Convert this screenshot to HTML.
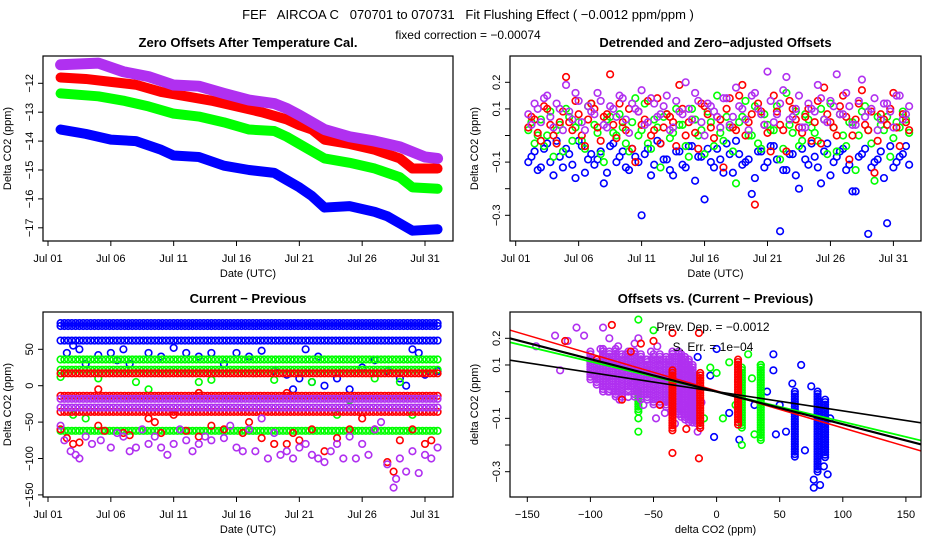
<!DOCTYPE html>
<html><head><meta charset="utf-8">
<style>
body{margin:0;background:#fff;}
svg text{font-family:"Liberation Sans",sans-serif;fill:#000;}
</style></head>
<body>
<svg id="s" width="936" height="540" xmlns="http://www.w3.org/2000/svg">
<rect width="936" height="540" fill="#fff"/>
<text x="468" y="19" font-size="13" text-anchor="middle" xml:space="preserve">FEF   AIRCOA C   070701 to 070731   Fit Flushing Effect ( −0.0012 ppm/ppm )</text>
<text x="468" y="39" font-size="12" text-anchor="middle">fixed correction = −0.00074</text>
<defs>
<clipPath id="c1"><rect x="43" y="56" width="410" height="185"/></clipPath>
<clipPath id="c2"><rect x="510" y="56" width="411" height="185"/></clipPath>
<clipPath id="c3"><rect x="43" y="312" width="410" height="185"/></clipPath>
<clipPath id="c4"><rect x="510" y="312" width="411" height="185"/></clipPath>
</defs>
</svg>
<script>
// ---------- data ----------
const dayTicks=[1,6,11,16,21,26,31];
const dayLabels=["Jul 01","Jul 06","Jul 11","Jul 16","Jul 21","Jul 26","Jul 31"];
const p1Ticks=[-12,-13,-14,-15,-16,-17];
const p2Ticks=[0.2,0.1,0,-0.1,-0.2,-0.3];
const p2Labels=["0.2","0.1","","−0.1","","−0.3"];
const p3Ticks=[50,0,-50,-100,-150];
const p4XTicks=[-150,-100,-50,0,50,100,150];

// panel 1 trends
const p1PurpleT=[2,5,7,9,11,13,15,17,19,20,21,23,25,27,29,31,32];
const p1PurpleV=[-11.36,-11.3,-11.6,-11.77,-12.06,-12.1,-12.35,-12.58,-12.7,-12.87,-13.1,-13.6,-13.85,-14.0,-14.2,-14.55,-14.6];
const p1RedT=[2,4,6,8,10,12,14,16,18,20,21,22,23,25,27,29,30,32];
const p1RedV=[-11.8,-11.85,-11.95,-12.05,-12.3,-12.45,-12.6,-12.8,-13.0,-13.25,-13.45,-13.6,-13.95,-14.1,-14.3,-14.6,-14.95,-14.95];
const p1GreenT=[2,5,7,9,11,13,15,17,19,20,21,23,25,27,29,30,32];
const p1GreenV=[-12.35,-12.45,-12.6,-12.8,-13.05,-13.15,-13.35,-13.6,-13.65,-13.85,-14.1,-14.6,-14.75,-14.95,-15.25,-15.6,-15.65];
const p1BlueT=[2,4,6,8,10,11,13,15,17,19,20,21,22,23,25,27,28,29,30,32];
const p1BlueV=[-13.6,-13.75,-13.95,-14.0,-14.3,-14.5,-14.55,-14.85,-15.0,-15.1,-15.35,-15.6,-15.9,-16.3,-16.25,-16.45,-16.6,-16.85,-17.1,-17.05];

// panel 2 detrended (t = 2 + i*0.5, second set offset by 0.25)
const p2Start=2, p2Step=0.5, p2Offset=0.25;
const p2Blue=[-0.1,-0.06,-0.12,-0.03,-0.15,-0.08,-0.05,-0.11,-0.02,-0.14,-0.07,-0.09,-0.18,-0.04,-0.1,-0.06,-0.13,-0.08,-0.3,-0.05,-0.11,-0.03,-0.09,-0.15,-0.06,-0.12,-0.04,-0.08,-0.24,-0.1,-0.05,-0.14,-0.07,-0.02,-0.11,-0.09,-0.16,-0.06,-0.1,-0.04,-0.36,-0.13,-0.07,-0.2,-0.09,-0.03,-0.12,-0.06,-0.15,-0.08,-0.05,-0.11,-0.21,-0.07,-0.37,-0.1,-0.06,-0.33,-0.12,-0.08,-0.04];
const p2BlueB=[-0.08,-0.13,-0.05,-0.1,-0.02,-0.12,-0.07,-0.16,-0.04,-0.09,-0.11,-0.06,-0.14,-0.03,-0.08,-0.12,-0.05,-0.1,-0.07,-0.15,-0.02,-0.09,-0.13,-0.06,-0.11,-0.04,-0.17,-0.08,-0.05,-0.12,-0.09,-0.03,-0.14,-0.07,-0.1,-0.22,-0.06,-0.12,-0.04,-0.09,-0.13,-0.07,-0.15,-0.05,-0.11,-0.08,-0.18,-0.03,-0.1,-0.06,-0.13,-0.21,-0.08,-0.05,-0.12,-0.09,-0.16,-0.04,-0.1,-0.07,-0.11];
const p2Green=[0.02,-0.03,0.06,0.0,-0.08,0.04,0.1,-0.02,0.05,-0.05,0.12,0.01,-0.1,0.07,0.0,0.03,-0.06,0.14,0.02,-0.03,0.06,-0.12,0.08,0.01,0.04,-0.04,0.1,0.0,-0.07,0.05,0.15,-0.02,0.03,-0.18,0.07,0.0,0.11,-0.05,0.04,0.02,-0.09,0.16,0.01,-0.04,0.08,0.03,-0.02,0.06,0.12,-0.06,0.0,0.05,-0.13,0.09,0.02,-0.17,0.04,0.07,-0.01,0.03,0.06];
const p2GreenB=[0.05,0.0,-0.04,0.09,0.02,-0.06,0.07,0.03,-0.02,0.11,0.04,-0.07,0.06,0.01,0.08,-0.03,0.05,0.0,0.12,-0.05,0.03,0.07,-0.01,0.1,0.04,-0.08,0.06,0.02,0.09,-0.04,0.01,0.07,-0.06,0.05,0.13,0.0,-0.03,0.08,0.02,0.11,-0.05,0.04,0.09,-0.02,0.06,0.01,0.1,-0.07,0.03,0.08,-0.04,0.05,0.0,0.11,-0.03,0.07,0.02,-0.08,0.05,0.09,0.01];
const p2Red=[0.03,0.06,-0.02,0.1,0.0,0.05,0.22,0.02,0.08,-0.04,0.12,0.03,0.07,0.23,-0.01,0.05,0.1,-0.1,0.04,0.13,0.02,-0.03,0.08,0.05,0.19,0.0,0.06,-0.05,0.11,0.03,0.07,-0.12,0.14,0.02,0.19,0.05,-0.26,0.09,0.01,0.15,0.04,-0.06,0.1,0.03,0.07,-0.02,0.13,0.18,0.05,0.0,0.15,-0.09,0.06,0.17,0.02,-0.14,0.08,0.04,0.16,-0.04,0.05];
const p2RedB=[0.07,0.01,0.11,0.04,-0.03,0.09,0.05,0.13,0.0,0.06,0.1,-0.02,0.08,0.04,0.12,0.02,-0.05,0.09,0.06,0.0,0.14,0.03,0.07,-0.04,0.1,0.05,0.01,0.12,0.08,-0.01,0.06,0.1,0.03,0.15,0.0,0.08,0.12,0.04,-0.06,0.09,0.02,0.13,0.06,0.01,0.1,0.05,-0.03,0.08,0.03,0.11,0.07,0.0,0.12,0.04,0.09,-0.02,0.06,0.1,0.03,0.08,0.02];
const p2Purple=[0.08,0.12,0.05,0.15,0.03,0.1,0.19,0.06,0.13,0.02,0.09,0.16,0.04,0.11,0.07,0.14,0.01,0.1,0.17,0.05,0.12,0.08,0.15,0.03,0.09,0.2,0.06,0.13,0.0,0.11,0.07,0.14,0.04,0.18,0.1,0.02,0.16,0.08,0.24,0.05,0.12,0.22,0.07,0.15,0.03,0.1,0.19,0.06,0.13,0.23,0.08,0.11,0.04,0.21,0.09,0.14,0.06,0.12,0.03,0.15,0.08];
const p2PurpleB=[0.04,0.1,0.14,0.07,0.12,0.02,0.09,0.16,0.05,0.11,0.08,0.13,0.03,0.1,0.15,0.06,0.12,0.09,0.04,0.14,0.07,0.11,0.02,0.13,0.08,0.1,0.16,0.05,0.12,0.09,0.03,0.14,0.07,0.11,0.06,0.15,0.1,0.04,0.13,0.08,0.17,0.06,0.1,0.03,0.12,0.09,0.14,0.05,0.11,0.08,0.16,0.04,0.13,0.07,0.1,0.02,0.12,0.09,0.15,0.06,0.11];

// panel 3 levels and outliers
const p3BlueLevels=[86,82,62];
const p3GreenLevels=[36,22,-62];
const p3RedLevels=[17,-14,-36];
const p3PurpleLevels=[-18,-30];
const p3BlueT=[2.5,3,3.5,4,5,6,6.5,7,7.5,9,10,11,12,13,14,15,16,17,18,19,20,21,21.5,22,22.5,23,24,25,26,27,28,29,30,30.5,31,32,20.5,29.5];
const p3BlueV=[45,55,50,30,42,45,35,50,30,45,40,52,45,40,45,30,45,40,48,20,15,10,50,5,40,0,10,-5,25,35,20,10,50,45,15,20,-5,0];
const p3GreenT=[2,5,8,9,13,14,19,22,25,27,29,30,24,13,3,4];
const p3GreenV=[12,10,5,-5,5,8,8,5,-20,10,5,-40,-40,-10,-40,-45];
const p3RedT=[2,2.5,3,3.5,5,5.5,7,7.5,9,9.5,10,11,12,13,14,15,16.5,17,18,19,20,20.5,21,22,23,24,25,26,27,28,28.5,29,30,31,31.5,5,13,20];
const p3RedV=[-60,-72,-80,-78,-55,-62,-65,-68,-45,-50,-65,-40,-62,-70,-55,-60,-65,-50,-72,-80,-80,-65,-75,-60,-90,-72,-60,-45,-60,-105,-118,-75,-60,-80,-75,-5,-10,-10];
const p3PurpleT=[2,2.3,2.8,3.2,3.5,4,4.5,5.2,6,6.5,7,7.5,8,8.5,9,9.5,10,10.5,11,11.5,12,12.5,13,13.5,14,15,15.5,16,16.5,17,17.5,18,18.5,19,19.5,20,20.5,21,21.5,22,22.5,23,23.5,24,24.5,25,25.5,26,26.5,27,27.5,28,28.5,28.7,29,29.5,30,30.5,31,31.5,32];
const p3PurpleV=[-55,-75,-90,-95,-100,-70,-80,-75,-85,-65,-70,-90,-85,-60,-80,-70,-85,-95,-80,-60,-75,-90,-80,-70,-75,-72,-55,-85,-90,-60,-90,-45,-100,-65,-95,-90,-100,-85,-80,-95,-100,-105,-90,-80,-100,-70,-100,-80,-95,-60,-50,-108,-140,-128,-100,-118,-90,-120,-95,-100,-85];

// panel 4 scatter
const p4PurpleX=[-143,-128,-118,-111,-124,-105,-100,-95,-90,-88,-85,-82,-80,-78,-75,-72,-70,-68,-65,-63,-60,-58,-55,-52,-50,-48,-45,-43,-40,-38,-35,-33,-30,-28,-26,-24,-22,-20,-18,-15,-12,-97,-92,-86,-77,-66,-62,-56,-47,-41];
const p4PurpleY=[0.17,0.21,0.19,0.24,0.08,0.21,0.15,0.1,0.24,0.05,0.2,0.12,0.0,0.17,0.08,0.14,-0.02,0.1,0.18,0.04,0.12,-0.05,0.08,0.15,0.02,-0.1,0.1,0.05,-0.03,0.12,0.07,-0.12,0.04,0.1,-0.05,0.02,0.08,-0.08,0.0,-0.15,-0.04,0.06,0.16,0.0,-0.03,0.03,0.2,0.12,0.17,-0.08];
const p4PurpleColX=[-100,-95,-90,-85,-80,-75,-70,-65,-60,-55,-50,-45,-40,-35,-30,-28,-25,-22,-19,-16];
const p4PurpleColLo=[0.04,0.02,0.0,0.0,-0.02,-0.02,0.0,-0.02,-0.03,-0.03,-0.05,-0.05,-0.06,-0.08,-0.09,-0.1,-0.11,-0.12,-0.12,-0.12];
const p4PurpleColHi=[0.14,0.12,0.16,0.15,0.16,0.14,0.15,0.15,0.14,0.12,0.14,0.14,0.13,0.15,0.15,0.14,0.13,0.12,0.1,0.06];
const p4RedColX=[-35,-13,17];
const p4RedColLo=[-0.15,-0.14,-0.13];
const p4RedColHi=[0.08,0.07,0.12];
const p4GreenColX=[-62,20,35];
const p4GreenColLo=[-0.08,-0.14,-0.19];
const p4GreenColHi=[0.0,0.09,0.1];
const p4BlueColX=[62,80,86];
const p4BlueColLo=[-0.25,-0.3,-0.25];
const p4BlueColHi=[0.0,0.0,-0.03];
const p4RedX=[-83,-120,-60,-50,-35,-14,-75,-45,-24,-35,-14,-95,-68];
const p4RedY=[0.25,0.19,0.18,0.19,0.22,0.22,-0.03,-0.05,-0.14,-0.23,-0.25,0.12,0.15];
const p4GreenX=[-62,-50,-62,-62,10,25,35,-5,-10,0,5,20,30,-40,-30,28,15];
const p4GreenY=[0.27,0.23,-0.15,-0.1,0.11,0.14,0.1,0.09,-0.1,0.07,-0.1,-0.2,-0.16,-0.02,0.15,0.05,-0.05];
const p4BlueX=[0,-15,45,67,45,-5,10,-2,18,70,77,77,82,88,85,55,50,40,60,75,90,47,30];
const p4BlueY=[0.16,0.13,0.14,0.1,0.08,0.06,-0.08,-0.17,-0.18,-0.22,-0.33,-0.36,-0.35,-0.31,-0.28,-0.15,-0.05,0.0,0.03,0.02,-0.1,-0.16,-0.05];
const fitSlopes=[-0.00139,-0.00113,-0.00122,-0.00072];
const fitIntercepts=[0.003,0.0,0.0,0.0];
const fitColors=["#ff0000","#00ff00","#000000","#000000"];
const fitWidths=[1.5,1.8,2.2,1.6];

// ---------- helpers ----------
const NS="http://www.w3.org/2000/svg";
const svg=document.getElementById('s');
const BLUE="#0000ff",GREEN="#00ff00",RED="#ff0000",PURP="#b030f0";
function el(tag,attrs,parent){const e=document.createElementNS(NS,tag);for(const k in attrs)e.setAttribute(k,attrs[k]);(parent||svg).appendChild(e);return e;}
function txt(x,y,s,size,anchor,rot,parent){const t=el('text',{x:x,y:y,'font-size':size,'text-anchor':anchor||'middle'},parent);if(rot)t.setAttribute('transform','rotate(-90 '+x+' '+y+')');t.textContent=s;return t;}

function panel(cfg){
  const g=el('g',{});
  
  
  const [x0,y0,x1,y1]=cfg.box;
  const marks=el('g',{'clip-path':'url(#'+cfg.clip+')'},g);
  
  
  cfg.draw(marks);
  const frame=el('rect',{x:x0,y:y0,width:x1-x0,height:y1-y0,fill:'none',stroke:'#000','stroke-width':1.2},g);
  
  
  const xa=el('g',{},g);
  
  
  const xs=cfg.xTicks.map(cfg.fx);
  el('line',{x1:xs[0],x2:xs[xs.length-1],y1:y1,y2:y1,stroke:'#000'},xa);
  cfg.xTicks.forEach((v,i)=>{const x=cfg.fx(v);el('line',{x1:x,x2:x,y1:y1,y2:y1+5,stroke:'#000'},xa);txt(x,y1+21,cfg.xLabels[i],11,'middle',false,xa);});
  const xt=txt((x0+x1)/2,y1+36,cfg.xTitle,11,'middle',false,g);
  
  
  const ya=el('g',{},g);
  
  
  cfg.yTicks.forEach((v,i)=>{const y=cfg.fy(v);el('line',{x1:x0-5,x2:x0,y1:y,y2:y,stroke:'#000'},ya);if(cfg.yLabels[i])txt(x0-10,y,cfg.yLabels[i],11,'middle',true,ya);});
  const yt=txt(x0-32,(y0+y1)/2,cfg.yTitle,11,'middle',true,g);
  
  
  const tt=txt((x0+x1)/2,y0-9,cfg.title,13,'middle',false,g);
  tt.setAttribute('font-weight','bold');
  
  
  return g;
}
function circ(g,x,y,c,name){const e=el('circle',{cx:x,cy:y,r:3.3,fill:'none',stroke:c,'stroke-width':1.6},g);return e;}

// ---------- panel 1 ----------
const f1x=d=>48+(d-1)*12.567, f1y=v=>83.3+(-12-v)*28.9;
panel({name:'zero-offsets-panel',box:[43,56,453,241],clip:'c1',fx:f1x,fy:f1y,xTicks:dayTicks,xLabels:dayLabels,yTicks:p1Ticks,yLabels:p1Ticks.map(v=>'−'+Math.abs(v)),
 xTitle:'Date (UTC)',yTitle:'Delta CO2 (ppm)',title:'Zero Offsets After Temperature Cal.',
 draw:g=>{
  [[p1BlueT,p1BlueV,BLUE,10,'blue'],[p1GreenT,p1GreenV,GREEN,10,'green'],[p1RedT,p1RedV,RED,10,'red'],[p1PurpleT,p1PurpleV,PURP,11,'purple']].forEach(([T,V,c,w,n])=>{
   const p=el('polyline',{points:T.map((t,i)=>f1x(t)+','+f1y(V[i])).join(' '),fill:'none',stroke:c,'stroke-width':w,'stroke-linejoin':'round','stroke-linecap':'round'},g);
   
   
  });
 }});

// ---------- panel 2 ----------
const f2x=d=>515.7+(d-1)*12.59, f2y=v=>82.3+(0.2-v)*266;
panel({name:'detrended-panel',box:[510,56,921,241],clip:'c2',fx:f2x,fy:f2y,xTicks:dayTicks,xLabels:dayLabels,yTicks:p2Ticks,yLabels:p2Labels,
 xTitle:'Date (UTC)',yTitle:'Delta CO2 (ppm)',title:'Detrended and Zero−adjusted Offsets',
 draw:g=>{
  [[p2Blue,p2BlueB,BLUE,'blue'],[p2Green,p2GreenB,GREEN,'green'],[p2Red,p2RedB,RED,'red'],[p2Purple,p2PurpleB,PURP,'purple']].forEach(([V,VB,c,n])=>{
   V.forEach((v,i)=>circ(g,f2x(p2Start+i*p2Step),f2y(v),c,'point-'+n));
   VB.forEach((v,i)=>circ(g,f2x(p2Start+p2Offset+i*p2Step),f2y(v),c,'point-'+n));
  });
 }});

// ---------- panel 3 ----------
const f3x=f1x, f3y=v=>349.3+(50-v)*0.728;
panel({name:'current-previous-panel',box:[43,312,453,497],clip:'c3',fx:f3x,fy:f3y,xTicks:dayTicks,xLabels:dayLabels,yTicks:p3Ticks,yLabels:p3Ticks.map(v=>v<0?'−'+Math.abs(v):String(v)),
 xTitle:'Date (UTC)',yTitle:'Delta CO2 (ppm)',title:'Current − Previous',
 draw:g=>{
  const series=[[p3BlueLevels,p3BlueT,p3BlueV,BLUE,'blue'],[p3GreenLevels,p3GreenT,p3GreenV,GREEN,'green'],[p3RedLevels,p3RedT,p3RedV,RED,'red'],[p3PurpleLevels,p3PurpleT,p3PurpleV,PURP,'purple']];
  series.forEach(([L,T,V,c,n])=>{
   L.forEach(lv=>{for(let d=2;d<=32.1;d+=0.3)circ(g,f3x(d),f3y(lv),c,'level-point-'+n);});
   T.forEach((t,i)=>circ(g,f3x(t),f3y(V[i]),c,'point-'+n));
  });
 }});

// ---------- panel 4 ----------
const f4x=v=>527.3+(v+150)*1.262, f4y=v=>338.3+(0.2-v)*266.8;
const g4=panel({name:'offsets-vs-diff-panel',box:[510,312,921,497],clip:'c4',fx:f4x,fy:f4y,xTicks:p4XTicks,xLabels:p4XTicks.map(v=>v<0?'−'+Math.abs(v):String(v)),yTicks:p2Ticks,yLabels:p2Labels,
 xTitle:'delta CO2 (ppm)',yTitle:'delta CO2 (ppm)',title:'Offsets vs. (Current − Previous)',
 draw:g=>{
  const cols=(X,Lo,Hi,c,n)=>X.forEach((x,i)=>{for(let y=f4y(Hi[i]);y<=f4y(Lo[i]);y+=2.5)circ(g,f4x(x),y,c,'column-point-'+n);});
  cols(p4BlueColX,p4BlueColLo,p4BlueColHi,BLUE,'blue');
  p4BlueX.forEach((x,i)=>circ(g,f4x(x),f4y(p4BlueY[i]),BLUE,'point-blue'));
  cols(p4GreenColX,p4GreenColLo,p4GreenColHi,GREEN,'green');
  p4GreenX.forEach((x,i)=>circ(g,f4x(x),f4y(p4GreenY[i]),GREEN,'point-green'));
  cols(p4PurpleColX,p4PurpleColLo,p4PurpleColHi,PURP,'purple');
  p4PurpleX.forEach((x,i)=>circ(g,f4x(x),f4y(p4PurpleY[i]),PURP,'point-purple'));
  cols(p4RedColX,p4RedColLo,p4RedColHi,RED,'red');
  p4RedX.forEach((x,i)=>circ(g,f4x(x),f4y(p4RedY[i]),RED,'point-red'));
  fitSlopes.forEach((s,i)=>{
   const xa=-170,xb=170;
   const l=el('line',{x1:f4x(xa),y1:f4y(fitIntercepts[i]+s*xa),x2:f4x(xb),y2:f4y(fitIntercepts[i]+s*xb),stroke:fitColors[i],'stroke-width':fitWidths[i]},g);
   
   
  });
 }});
const a1=txt(713,331,'Prev. Dep. =  −0.0012',12,'middle',false,g4);


const a2=txt(713,351,'S. Err. =  1e−04',12,'middle',false,g4);


</script>
</body></html>
